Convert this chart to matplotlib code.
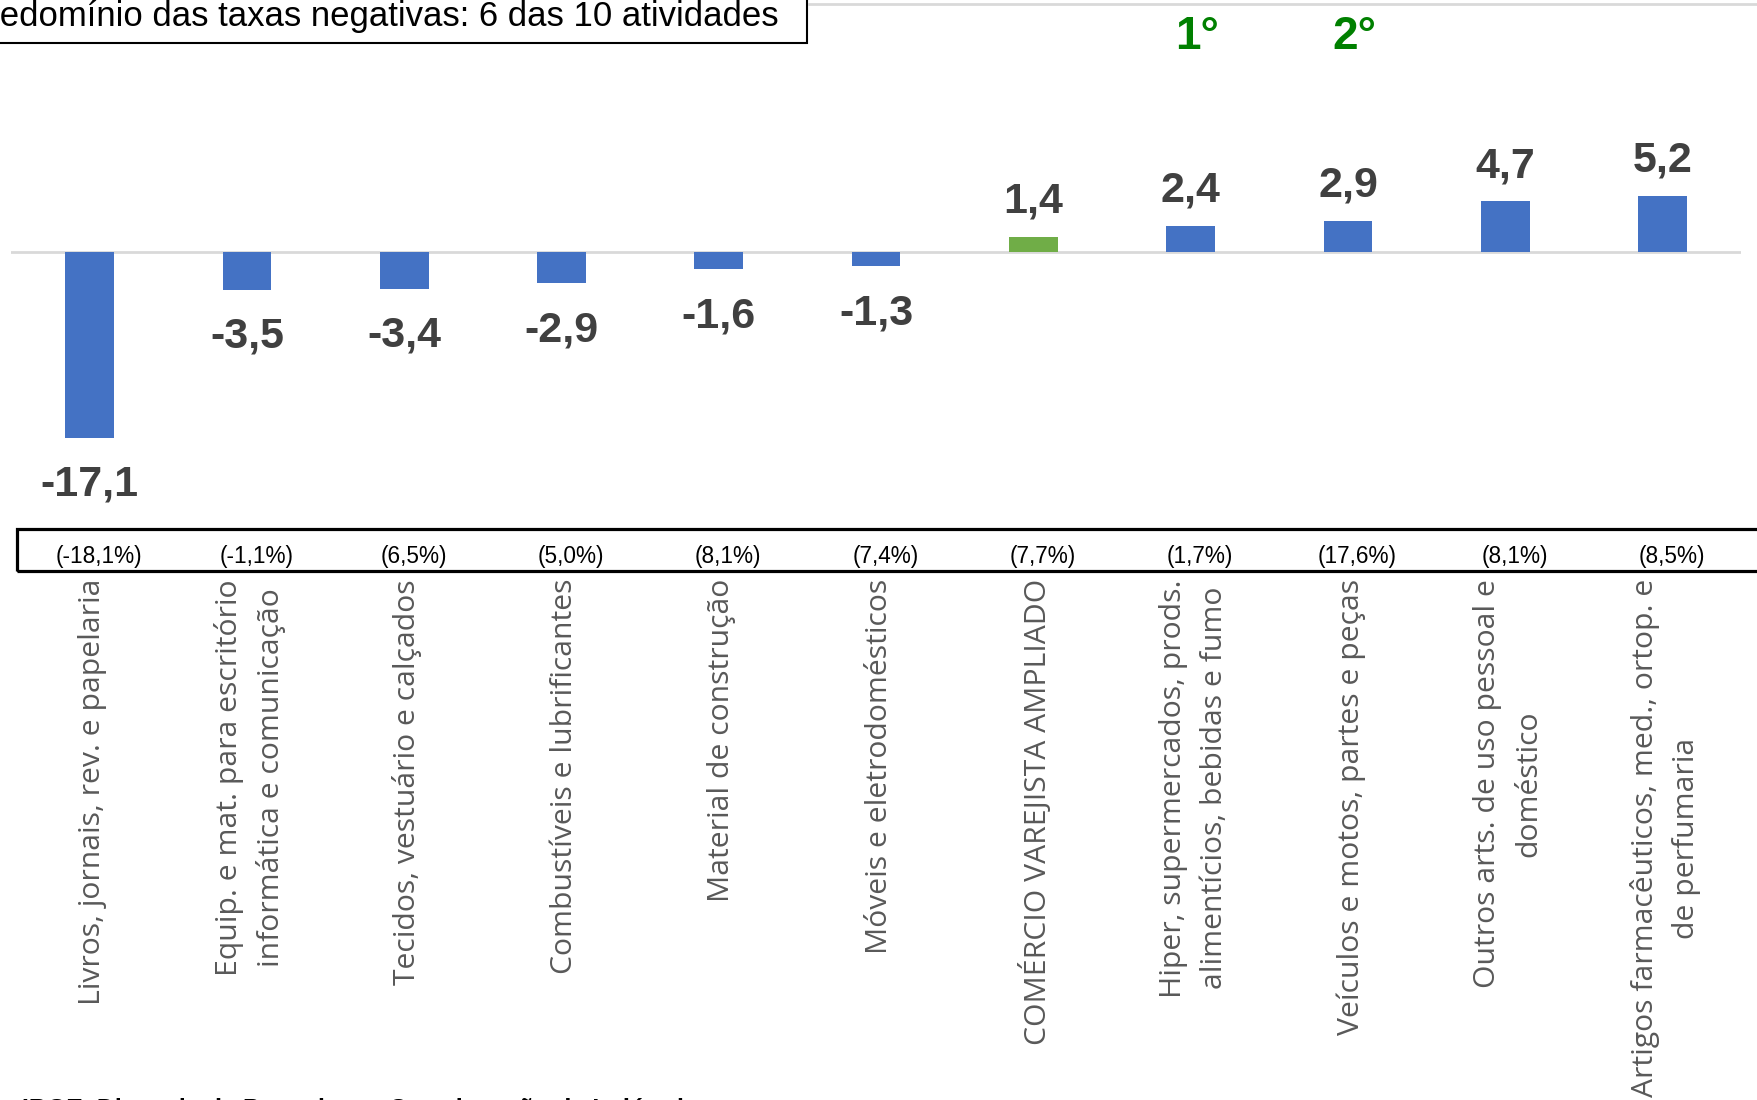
import matplotlib
matplotlib.use("Agg")
import matplotlib.pyplot as plt
from matplotlib.patches import Rectangle
from matplotlib.lines import Line2D
import matplotlib.transforms as mtransforms

categories = [
    "Livros, jornais, rev. e papelaria",
    "Equip. e mat. para escritório\ninformática e comunicação",
    "Tecidos, vestuário e calçados",
    "Combustíveis e lubrificantes",
    "Material de construção",
    "Móveis e eletrodomésticos",
    "COMÉRCIO VAREJISTA AMPLIADO",
    "Hiper, supermercados, prods.\nalimentícios, bebidas e fumo",
    "Veículos e motos, partes e peças",
    "Outros arts. de uso pessoal e\ndoméstico",
    "Artigos farmacêuticos, med., ortop. e\nde perfumaria",
]
values = [-17.1, -3.5, -3.4, -2.9, -1.6, -1.3, 1.4, 2.4, 2.9, 4.7, 5.2]
shares = ["(-18,1%)", "(-1,1%)", "(6,5%)", "(5,0%)", "(8,1%)", "(7,4%)",
          "(7,7%)", "(1,7%)", "(17,6%)", "(8,1%)", "(8,5%)"]
rank_index = [7, 8]
rank_labels = ["1°", "2°"]
highlight_index = 6
title = "Predomínio das taxas negativas: 6 das 10 atividades"
source = "IBGE. Diretoria de Pesquisas - Coordenação de Indústria"

BLUE = "#4472C4"
GREEN = "#70AD47"
NARROW = ["Liberation Sans Narrow", "Liberation Sans", "DejaVu Sans"]
OPEN = ["Open Sans", "DejaVu Sans"]

W, H = 1757, 1100
fig = plt.figure(figsize=(W / 100, H / 100), dpi=100)
fig.patch.set_facecolor("white")

def fx(px):
    return px / W

def fy(py):
    return 1 - py / H

# axes: x index i -> 89.6 + 157.3 i px ; zero at y 252 px ; 10.85 px per unit
step = 157.3
left_px = 89.6 - step / 2
ax_top, ax_bot = 4, 529
scale = 10.85
ax = fig.add_axes([fx(left_px), fy(ax_bot), (step * 11) / W, (ax_bot - ax_top) / H])
ax.set_xlim(-0.5, 10.5)
ax.set_ylim(-(ax_bot - 252) / scale, (252 - ax_top) / scale)
ax.axis("off")

x = list(range(len(values)))
colors = [GREEN if i == highlight_index else BLUE for i in x]
ax.bar(x, values, width=0.31, color=colors, zorder=2)
ax.axhline(0, color="#D9D9D9", lw=2, zorder=1)

for i, v in enumerate(values):
    txt = f"{v:.1f}".replace(".", ",")
    off = 35 if v >= 0 else -47
    ax.annotate(txt, (i, v), xytext=(0, off), textcoords="offset pixels",
                ha="center", va="center", fontsize=31, fontweight="bold",
                color="#404040", family=NARROW)

for i, lab in zip(rank_index, rank_labels):
    ax.text(i + 0.04, (252 - 37) / scale, lab, ha="center", va="center",
            fontsize=33, fontweight="bold", color="#008000", family=NARROW)

trans = mtransforms.blended_transform_factory(ax.transData, fig.transFigure)

# share row box
fig.add_artist(Rectangle((fx(17), fy(571)), fx(1800), (571 - 529) / H,
                         transform=fig.transFigure, fill=False, ec="black", lw=2.3))
for i, s in enumerate(shares):
    fig.text(i + 0.06, fy(556), s, transform=trans, ha="center", va="center",
             fontsize=16.3, color="black", family=NARROW)

for i, c in enumerate(categories):
    fig.text(i + 0.02, fy(579), c, transform=trans, rotation=90, ha="center",
             va="top", multialignment="center", fontsize=21.7, color="#595959",
             family=OPEN, linespacing=1.55)

# title box (cropped at left/top)
fig.add_artist(Rectangle((fx(-10), fy(43)), fx(817), 60 / H,
                         transform=fig.transFigure, fill=True, fc="white", ec="black", lw=1.5))
fig.text(fx(779), fy(26), title, ha="right", va="baseline", fontsize=25,
         color="black", family=NARROW)

# top light gray line
fig.add_artist(Line2D([fx(809), 1], [fy(3.5), fy(3.5)], transform=fig.transFigure,
                      color="#D9D9D9", lw=2))

fig.text(fx(22), fy(1117), source, ha="left", va="baseline", fontsize=18,
         fontweight="bold", color="black", family=["Liberation Sans", "DejaVu Sans"])

fig.savefig("out.png", dpi=100)
